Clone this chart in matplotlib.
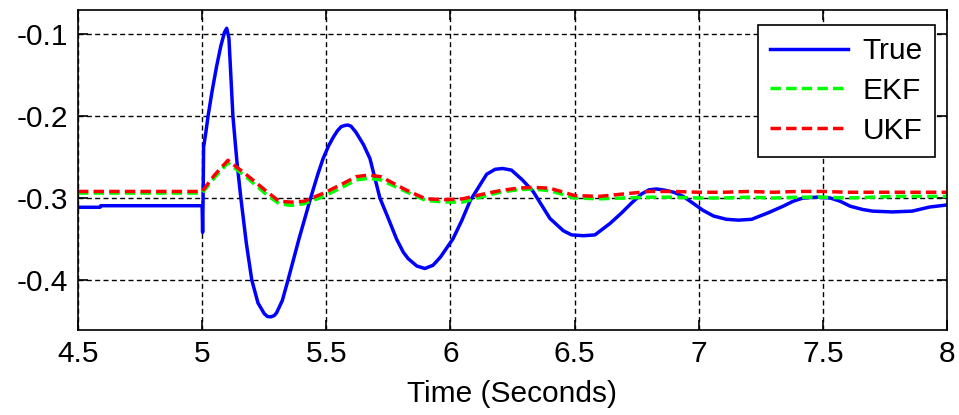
"""Estimated state vs. true response around the disturbance at t = 5 s."""

import matplotlib.pyplot as plt
from matplotlib.ticker import FormatStrFormatter

# True response (time in s, value)
TRUE_T = [
    4.5, 4.589, 4.592, 5.0, 5.002, 5.004, 5.006, 5.015, 5.024, 5.04, 5.058,
    5.075, 5.09, 5.099, 5.108, 5.124, 5.14, 5.156, 5.178, 5.2, 5.225, 5.25,
    5.263, 5.276, 5.29, 5.3, 5.323, 5.346, 5.39, 5.437, 5.465, 5.487, 5.51,
    5.53, 5.545, 5.56, 5.575, 5.587, 5.6, 5.62, 5.65, 5.676, 5.716, 5.75,
    5.783, 5.81, 5.83, 5.865, 5.897, 5.93, 5.96, 6.01, 6.045, 6.08, 6.111,
    6.146, 6.18, 6.21, 6.246, 6.29, 6.333, 6.37, 6.401, 6.455, 6.488, 6.535,
    6.582, 6.643, 6.69, 6.73, 6.77, 6.8, 6.83, 6.856, 6.9, 6.937, 6.98,
    7.017, 7.06, 7.112, 7.16, 7.213, 7.28, 7.34, 7.38, 7.42, 7.475, 7.53,
    7.57, 7.61, 7.66, 7.7, 7.78, 7.86, 7.93, 8.0,
]
TRUE_Y = [
    -0.3113, -0.3113, -0.3094, -0.3094, -0.342, -0.300, -0.238, -0.220,
    -0.200, -0.170, -0.140, -0.115, -0.098, -0.093, -0.105, -0.200, -0.255,
    -0.300, -0.355, -0.400, -0.428, -0.441, -0.4445, -0.445, -0.4435, -0.440,
    -0.425, -0.400, -0.350, -0.300, -0.272, -0.252, -0.236, -0.225, -0.218,
    -0.213, -0.2115, -0.211, -0.2125, -0.220, -0.235, -0.252, -0.300, -0.325,
    -0.350, -0.366, -0.374, -0.383, -0.386, -0.382, -0.372, -0.350, -0.328,
    -0.303, -0.288, -0.271, -0.265, -0.264, -0.266, -0.278, -0.292, -0.310,
    -0.325, -0.340, -0.345, -0.346, -0.345, -0.331, -0.318, -0.306, -0.295,
    -0.290, -0.289, -0.290, -0.293, -0.298, -0.307, -0.315, -0.322, -0.326,
    -0.327, -0.326, -0.318, -0.310, -0.304, -0.300, -0.299, -0.300, -0.304,
    -0.310, -0.314, -0.316, -0.317, -0.316, -0.311, -0.3085,
]

# Filter estimates share one time base
EST_T = [
    4.5, 5.0, 5.05, 5.104, 5.18, 5.26, 5.31, 5.36, 5.41, 5.49, 5.57, 5.62,
    5.67, 5.72, 5.82, 5.9, 5.98, 6.05, 6.12, 6.2, 6.27, 6.33, 6.4, 6.5, 6.6,
    6.7, 6.8, 6.9, 7.0, 7.1, 7.2, 7.3, 7.4, 7.5, 7.6, 7.7, 7.8, 7.9, 8.0,
]
EKF_Y = [
    -0.294, -0.294, -0.275, -0.257, -0.275, -0.296, -0.307, -0.309, -0.307,
    -0.298, -0.286, -0.278, -0.276, -0.278, -0.292, -0.303, -0.305, -0.305,
    -0.299, -0.293, -0.290, -0.289, -0.291, -0.300, -0.301, -0.300, -0.299,
    -0.299, -0.300, -0.300, -0.299, -0.300, -0.299, -0.299, -0.300, -0.299,
    -0.298, -0.298, -0.298,
]
UKF_Y = [
    -0.292, -0.292, -0.272, -0.254, -0.272, -0.292, -0.304, -0.305, -0.304,
    -0.294, -0.282, -0.274, -0.272, -0.274, -0.290, -0.301, -0.302, -0.301,
    -0.296, -0.291, -0.288, -0.287, -0.288, -0.297, -0.298, -0.295, -0.292,
    -0.292, -0.293, -0.293, -0.292, -0.293, -0.292, -0.292, -0.293, -0.293,
    -0.293, -0.293, -0.293,
]

X_TICKS = [4.5, 5, 5.5, 6, 6.5, 7, 7.5, 8]
Y_TICKS = [-0.4, -0.3, -0.2, -0.1]

FONT_SIZE = 21.5
LINE_W = 2.5
DASH = (0, (3.0, 1.5))

plt.rcParams.update({
    "font.family": ["Liberation Sans", "DejaVu Sans"],
    "font.size": FONT_SIZE,
    "axes.unicode_minus": False,
})


def main():
    fig = plt.figure(figsize=(9.59, 4.15), dpi=100)
    ax = fig.add_axes([0.0813, 0.2048, 0.9062, 0.7711])

    ax.plot(TRUE_T, TRUE_Y, color="#0000FF", lw=LINE_W, label="True")
    ax.plot(EST_T, EKF_Y, color="#00FF00", lw=LINE_W, ls=DASH, label="EKF")
    ax.plot(EST_T, UKF_Y, color="#FF0000", lw=LINE_W, ls=DASH, label="UKF")

    ax.set_xlim(4.5, 8)
    ax.set_ylim(-0.461, -0.0707)
    ax.set_xticks(X_TICKS)
    ax.set_yticks(Y_TICKS)
    ax.xaxis.set_major_formatter(FormatStrFormatter("%g"))
    ax.yaxis.set_major_formatter(FormatStrFormatter("%g"))

    ax.grid(True, color="black", lw=1.0, ls=(0, (3.6, 2.4)))
    ax.tick_params(direction="in", length=7, width=1.2, top=True, right=True,
                   labelsize=FONT_SIZE, pad=7)
    for spine in ax.spines.values():
        spine.set_linewidth(1.2)

    ax.set_xlabel("Time (Seconds)", fontsize=FONT_SIZE, labelpad=9)

    leg = ax.legend(loc="upper right", bbox_to_anchor=(0.986, 0.953),
                    borderaxespad=0, fancybox=False, framealpha=1,
                    edgecolor="black", handlelength=2.6, labelspacing=0.4,
                    handletextpad=0.5, borderpad=0.4, fontsize=FONT_SIZE)
    leg.get_frame().set_linewidth(1.2)

    fig.savefig("out.png", dpi=100)
    plt.close(fig)


if __name__ == "__main__":
    main()
